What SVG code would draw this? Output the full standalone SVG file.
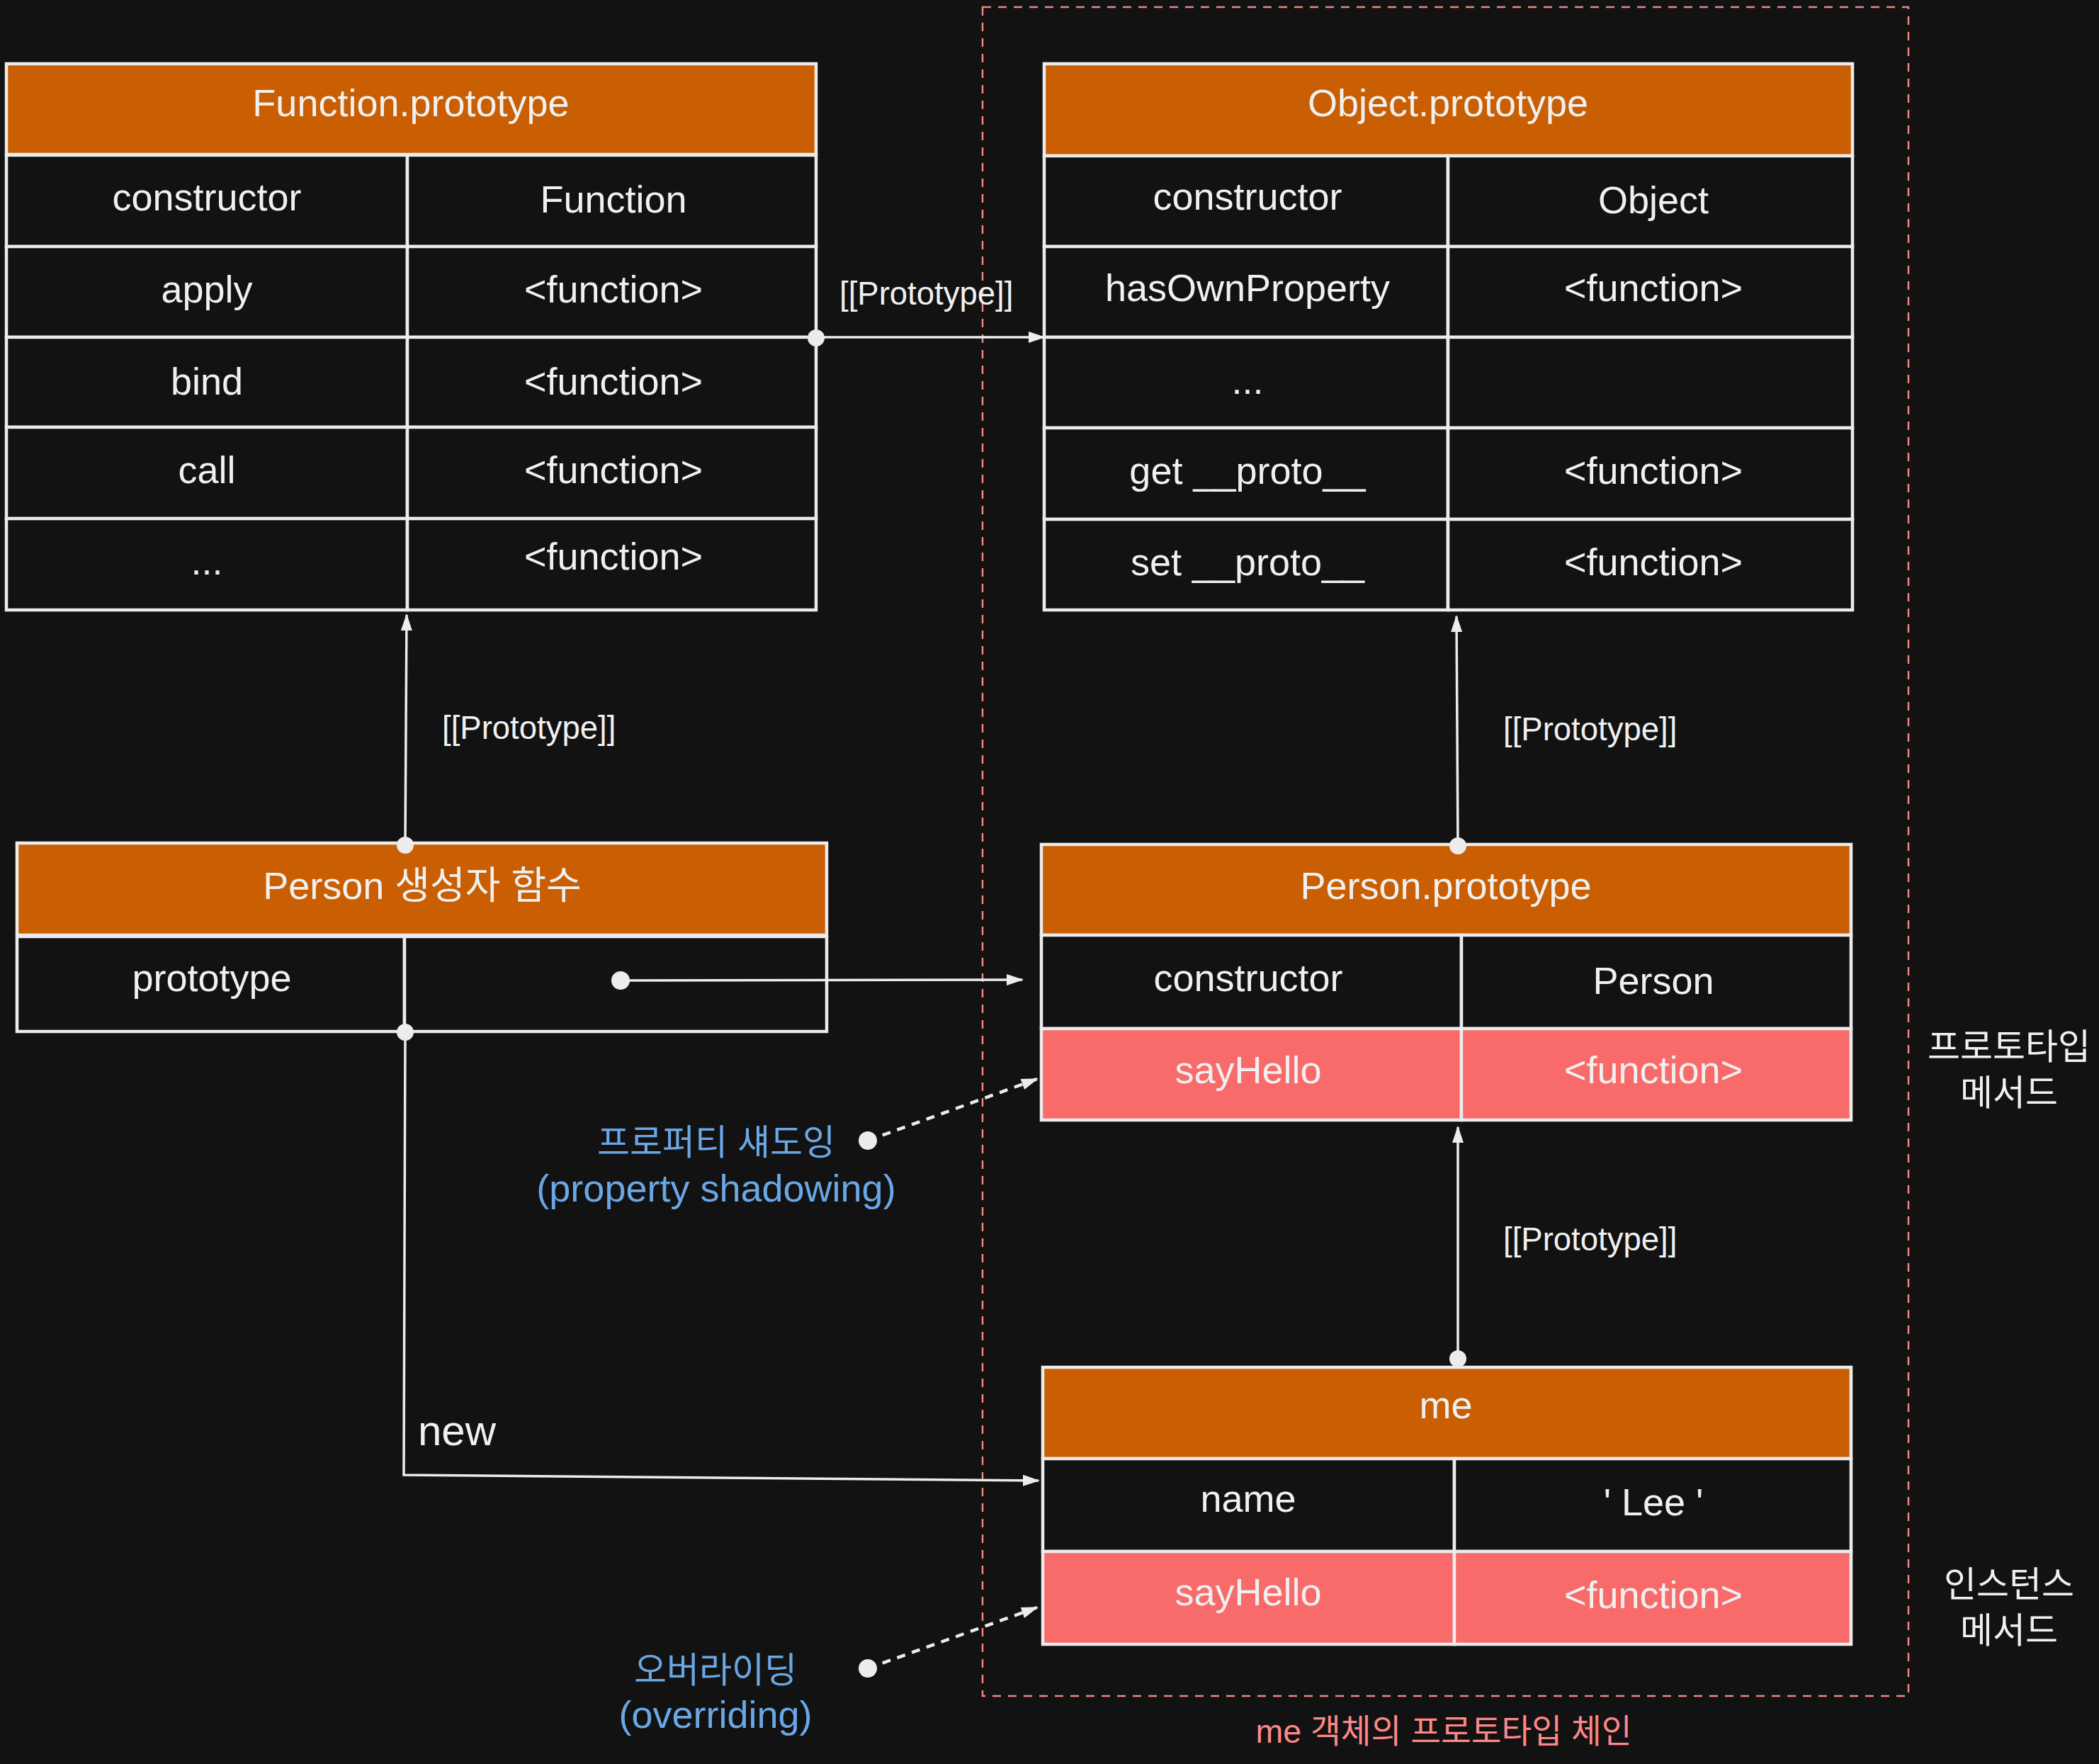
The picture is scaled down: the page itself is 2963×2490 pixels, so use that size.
<svg xmlns="http://www.w3.org/2000/svg" width="2963" height="2490" viewBox="0 0 2963 2490">
<defs>
<style>
.hdr{fill:#c95f02;stroke:#ececec;stroke-width:4.5}
.cell{fill:#121212;stroke:#ececec;stroke-width:4.5}
.hl{fill:#f96b6b;stroke:#ececec;stroke-width:4.5}
.t{font-family:"Liberation Sans","Noto Sans CJK KR",sans-serif;font-size:54px;fill:#f0f0f0;text-anchor:middle}
.lbl{font-family:"Liberation Sans",sans-serif;font-size:45.5px;fill:#f0f0f0}
.ko{font-family:"Noto Sans CJK KR",sans-serif;font-size:50px;fill:#f0f0f0;text-anchor:middle}
.blue{font-family:"Liberation Sans","Noto Sans CJK KR",sans-serif;fill:#6aa7e4;text-anchor:middle}
.conn{fill:none;stroke:#ececec;stroke-width:3.5}
.dash{fill:none;stroke:#ececec;stroke-width:4.5;stroke-dasharray:12 10}
.dot{fill:#ececec}
</style>
<marker id="ah" viewBox="0 0 24 18" markerWidth="24" markerHeight="18" refX="22" refY="9" orient="auto" markerUnits="userSpaceOnUse">
<path d="M0,1 L24,9 L0,17 z" fill="#ececec"/>
</marker>
</defs>
<rect width="2963" height="2490" fill="#121212"/>

<g id="chain-box">
<rect x="1387" y="10" width="1307" height="2384" fill="none" stroke="#f28582" stroke-width="2.5" stroke-dasharray="12 10"/>
<text x="2038" y="2460" font-family="Liberation Sans, Noto Sans CJK KR, sans-serif" font-size="46.5" fill="#ff8787" text-anchor="middle">me 객체의 프로토타입 체인</text>
</g>

<g id="function-prototype">
<rect class="hdr" x="9" y="90" width="1143" height="128"/>
<text class="t" x="580" y="164">Function.prototype</text>
<rect class="cell" x="9" y="219" width="566" height="129"/>
<rect class="cell" x="575" y="219" width="577" height="129"/>
<text class="t" x="292" y="297">constructor</text>
<text class="t" x="866" y="300">Function</text>
<rect class="cell" x="9" y="348" width="566" height="128"/>
<rect class="cell" x="575" y="348" width="577" height="128"/>
<text class="t" x="292" y="427">apply</text>
<text class="t" x="866" y="427">&lt;function&gt;</text>
<rect class="cell" x="9" y="476" width="566" height="127"/>
<rect class="cell" x="575" y="476" width="577" height="127"/>
<text class="t" x="292" y="557">bind</text>
<text class="t" x="866" y="557">&lt;function&gt;</text>
<rect class="cell" x="9" y="603" width="566" height="129"/>
<rect class="cell" x="575" y="603" width="577" height="129"/>
<text class="t" x="292" y="682">call</text>
<text class="t" x="866" y="682">&lt;function&gt;</text>
<rect class="cell" x="9" y="732" width="566" height="129"/>
<rect class="cell" x="575" y="732" width="577" height="129"/>
<text class="t" x="292" y="811">...</text>
<text class="t" x="866" y="804">&lt;function&gt;</text>
</g>

<g id="object-prototype">
<rect class="hdr" x="1474" y="90" width="1141" height="130"/>
<text class="t" x="2044" y="164">Object.prototype</text>
<rect class="cell" x="1474" y="220" width="570" height="128"/>
<rect class="cell" x="2044" y="220" width="571" height="128"/>
<text class="t" x="1761" y="296">constructor</text>
<text class="t" x="2334" y="301">Object</text>
<rect class="cell" x="1474" y="348" width="570" height="128"/>
<rect class="cell" x="2044" y="348" width="571" height="128"/>
<text class="t" x="1761" y="425">hasOwnProperty</text>
<text class="t" x="2334" y="425">&lt;function&gt;</text>
<rect class="cell" x="1474" y="476" width="570" height="128"/>
<rect class="cell" x="2044" y="476" width="571" height="128"/>
<text class="t" x="1761" y="556">...</text>
<rect class="cell" x="1474" y="604" width="570" height="129"/>
<rect class="cell" x="2044" y="604" width="571" height="129"/>
<text class="t" x="1761" y="683">get __proto__</text>
<text class="t" x="2334" y="683">&lt;function&gt;</text>
<rect class="cell" x="1474" y="733" width="570" height="128"/>
<rect class="cell" x="2044" y="733" width="571" height="128"/>
<text class="t" x="1761" y="812">set __proto__</text>
<text class="t" x="2334" y="812">&lt;function&gt;</text>
</g>

<g id="person-constructor">
<rect class="hdr" x="24" y="1190" width="1143" height="130"/>
<text class="t" x="596" y="1269">Person 생성자 함수</text>
<rect class="cell" x="24" y="1322" width="547" height="134"/>
<rect class="cell" x="571" y="1322" width="596" height="134"/>
<text class="t" x="299" y="1399">prototype</text>
</g>

<g id="person-prototype">
<rect class="hdr" x="1470" y="1192" width="1143" height="128"/>
<text class="t" x="2041" y="1269">Person.prototype</text>
<rect class="cell" x="1470" y="1320" width="593" height="132"/>
<rect class="cell" x="2063" y="1320" width="550" height="132"/>
<text class="t" x="1762" y="1399">constructor</text>
<text class="t" x="2334" y="1403">Person</text>
<rect class="hl" x="1470" y="1452" width="593" height="129"/>
<rect class="hl" x="2063" y="1452" width="550" height="129"/>
<text class="t" x="1762" y="1529">sayHello</text>
<text class="t" x="2334" y="1529">&lt;function&gt;</text>
</g>

<g id="me">
<rect class="hdr" x="1472" y="1930" width="1141" height="129"/>
<text class="t" x="2041" y="2002">me</text>
<rect class="cell" x="1472" y="2059" width="581" height="131"/>
<rect class="cell" x="2053" y="2059" width="560" height="131"/>
<text class="t" x="1762" y="2134">name</text>
<text class="t" x="2334" y="2139">' Lee '</text>
<rect class="hl" x="1472" y="2190" width="581" height="131"/>
<rect class="hl" x="2053" y="2190" width="560" height="131"/>
<text class="t" x="1762" y="2266">sayHello</text>
<text class="t" x="2334" y="2270">&lt;function&gt;</text>
</g>

<g id="side-labels">
<text class="ko" x="2836" y="1495">프로토타입</text>
<text class="ko" x="2836" y="1560">메서드</text>
<text class="ko" x="2836" y="2254">인스턴스</text>
<text class="ko" x="2836" y="2319">메서드</text>
</g>

<g id="annotations">
<text class="blue" x="1011" y="1630" font-size="50">프로퍼티 섀도잉</text>
<text class="blue" x="1011" y="1696" font-size="54">(property shadowing)</text>
<text class="blue" x="1010" y="2375" font-size="50">오버라이딩</text>
<text class="blue" x="1010" y="2439" font-size="54">(overriding)</text>
</g>

<g id="connectors">
<path class="conn" d="M1152,476 L1474,476" marker-end="url(#ah)"/>
<circle class="dot" cx="1152" cy="477" r="12"/>
<text class="lbl" x="1185" y="430">[[Prototype]]</text>

<path class="conn" d="M572,1192 L574,868" marker-end="url(#ah)"/>
<circle class="dot" cx="572" cy="1193" r="12"/>
<text class="lbl" x="624" y="1043">[[Prototype]]</text>

<path class="conn" d="M2058,1194 L2056,870" marker-end="url(#ah)"/>
<circle class="dot" cx="2058" cy="1194" r="12"/>
<text class="lbl" x="2122" y="1045">[[Prototype]]</text>

<path class="conn" d="M2058,1918 L2058,1591" marker-end="url(#ah)"/>
<circle class="dot" cx="2058" cy="1918" r="12"/>
<text class="lbl" x="2122" y="1765">[[Prototype]]</text>

<path class="conn" d="M876,1384 L1443,1383" marker-end="url(#ah)"/>
<circle class="dot" cx="876" cy="1384" r="13"/>

<path class="conn" d="M572,1456 L570,2082 L1466,2090" marker-end="url(#ah)"/>
<circle class="dot" cx="572" cy="1457" r="12"/>
<text x="590" y="2040" font-family="Liberation Sans, sans-serif" font-size="60" fill="#f0f0f0">new</text>

<path class="dash" d="M1225,1610 L1464,1523" marker-end="url(#ah)"/>
<circle class="dot" cx="1225" cy="1610" r="13"/>

<path class="dash" d="M1225,2355 L1464,2269" marker-end="url(#ah)"/>
<circle class="dot" cx="1225" cy="2355" r="13"/>
</g>
</svg>
